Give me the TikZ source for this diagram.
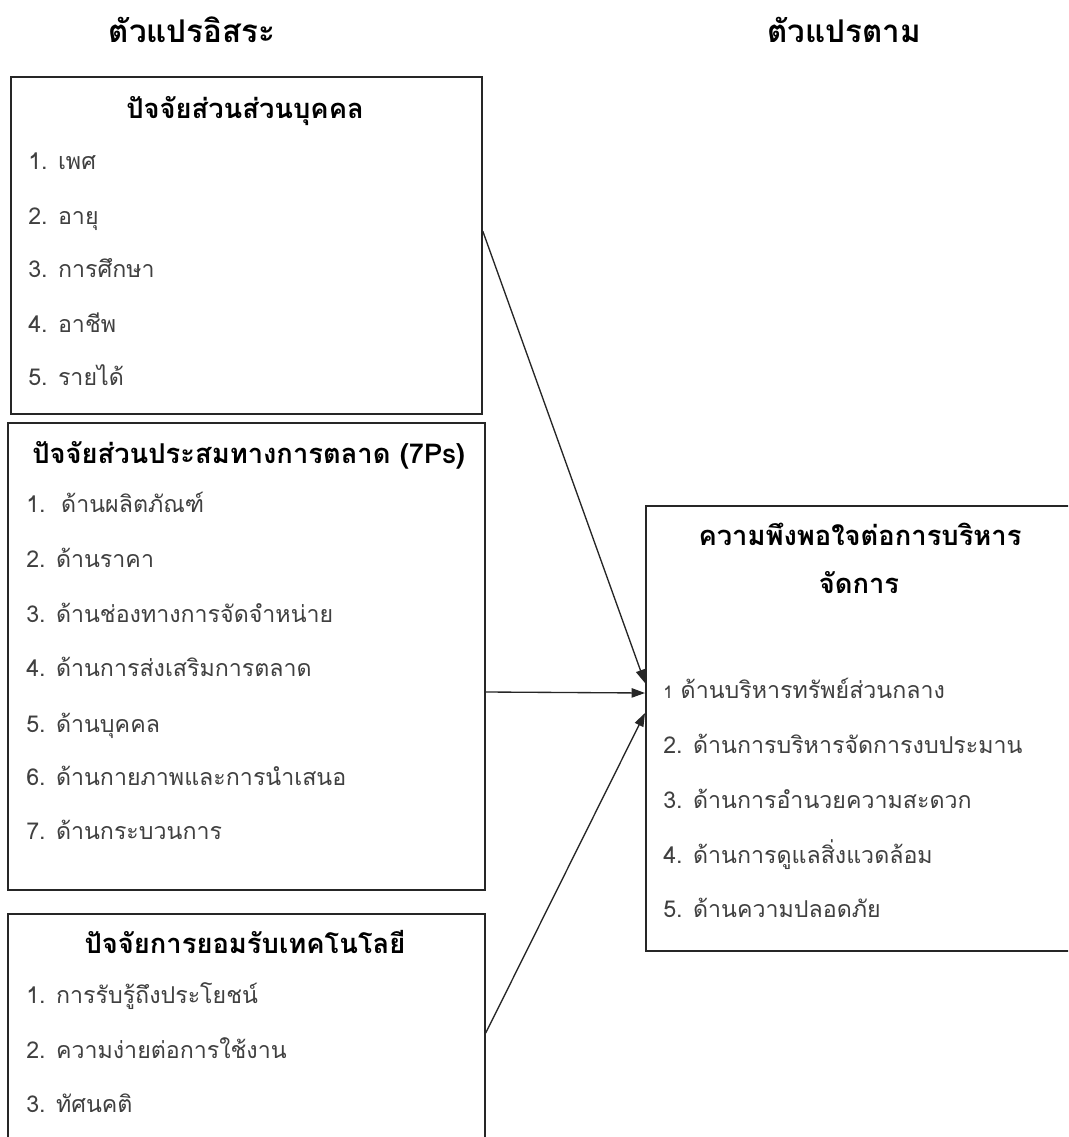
\documentclass[tikz,border=0pt]{standalone}
\usepackage{fontspec}
\setmainfont[Script=Thai]{Loma}
\usetikzlibrary{arrows.meta}
\begin{document}
\begin{tikzpicture}[x=0.75pt,y=-0.75pt,
  box/.style={draw=black!85, line width=1.3pt, anchor=north west, inner sep=0pt},
  ttl/.style={font=\fontsize{20.5}{24}\selectfont\bfseries, anchor=base, inner sep=0pt},
  itm/.style={font=\fontsize{17.4}{21}\selectfont, text=black!75, anchor=base west, inner sep=0pt},
  hdr/.style={font=\fontsize{23.5}{27}\selectfont\bfseries, anchor=base, inner sep=0pt},
  arr/.style={line width=1pt, draw=black!85, -{Triangle[length=10pt,width=7pt]}}]
\clip (0,0) rectangle (1068,1137);
\fill[white] (0,0) rectangle (1068,1137);
% headers
\node[hdr] (h1) at (192,43) {ตัวแปรอิสระ};
\node[hdr] (h2) at (844,43) {ตัวแปรตาม};
% boxes
\node[box, minimum width={471*0.75pt}, minimum height={337*0.75pt}] (b1) at (10,76) {};
\node[box, minimum width={477*0.75pt}, minimum height={467*0.75pt}] (b2) at (7,422) {};
\node[box, minimum width={477*0.75pt}, minimum height={240*0.75pt}] (b3) at (7,913) {};
\node[box, minimum width={432*0.75pt}, minimum height={445*0.75pt}] (b4) at (645,505) {};
% box 1
\node[ttl] (t1) at (245,119) {ปัจจัยส่วนส่วนบุคคล};
\node[itm] (i11) at (28,170) {1. เพศ};
\node[itm] (i12) at (28,225) {2. อายุ};
\node[itm] (i13) at (28,278) {3. การศึกษา};
\node[itm] (i14) at (28,332) {4. อาชีพ};
\node[itm] (i15) at (28,385) {5. รายได้};
% box 2
\node[ttl, anchor=base west] (t2) at (32,463) {ปัจจัยส่วนประสมทางการตลาด (7Ps)};
\node[itm] (i21) at (26,512) {1.\ \ ด้านผลิตภัณฑ์};
\node[itm] (i22) at (26,567) {2. ด้านราคา};
\node[itm] (i23) at (26,622) {3. ด้านช่องทางการจัดจำหน่าย};
\node[itm] (i24) at (26,676) {4. ด้านการส่งเสริมการตลาด};
\node[itm] (i25) at (26,732) {5. ด้านบุคคล};
\node[itm] (i26) at (26,785) {6. ด้านกายภาพและการนำเสนอ};
\node[itm] (i27) at (26,839) {7. ด้านกระบวนการ};
% box 3
\node[ttl] (t3) at (245,953) {ปัจจัยการยอมรับเทคโนโลยี};
\node[itm] (i31) at (26,1003) {1. การรับรู้ถึงประโยชน์};
\node[itm] (i32) at (26,1058) {2. ความง่ายต่อการใช้งาน};
\node[itm] (i33) at (26,1112) {3. ทัศนคติ};
% box 4
\node[ttl] (t4a) at (860,545) {ความพึงพอใจต่อการบริหาร};
\node[ttl] (t4b) at (859,593) {จัดการ};
\node[itm] (i41) at (663,698) {{\fontsize{13}{15}\selectfont 1} ด้านบริหารทรัพย์ส่วนกลาง};
\node[itm] (i42) at (663,753) {2. ด้านการบริหารจัดการงบประมาน};
\node[itm] (i43) at (663,808) {3. ด้านการอำนวยความสะดวก};
\node[itm] (i44) at (663,863) {4. ด้านการดูแลสิ่งแวดล้อม};
\node[itm] (i45) at (663,917) {5. ด้านความปลอดภัย};
% connector end points
\path (b1.north east) ++(0,155) coordinate (s1);
\path (b2.north east) ++(0,270) coordinate (s2);
\path (b3.north east) ++(0,120) coordinate (s3);
\path (b4.north west) ++(0,178) coordinate (e1);
\path (b4.north west) ++(0,188) coordinate (e2);
\path (b4.north west) ++(0,208) coordinate (e3);
\draw[arr] (s1) -- (e1);
\draw[arr] (s2) -- (e2);
\draw[arr] (s3) -- (e3);
\end{tikzpicture}
\end{document}
